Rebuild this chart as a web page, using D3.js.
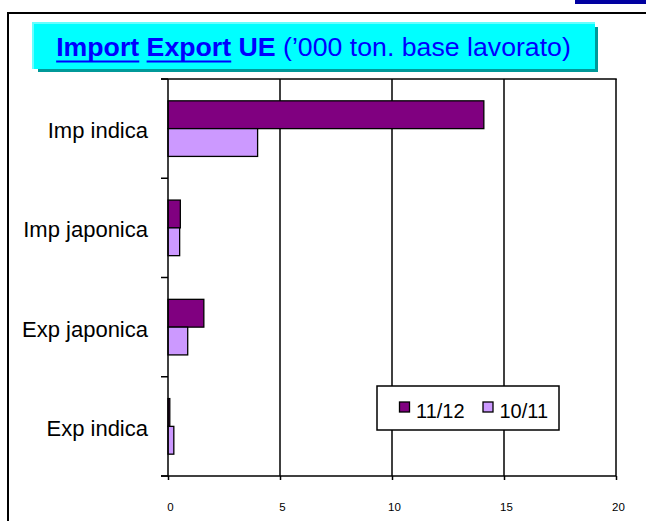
<!DOCTYPE html>
<html>
<head>
<meta charset="utf-8">
<script src="https://cdn.jsdelivr.net/npm/d3@7"></script>
<style>
  html, body { margin: 0; padding: 0; background: #fff; }
  svg { display: block; font-family: Arial, "Liberation Sans", sans-serif; }
</style>
</head>
<body>
<svg id="chart" width="646" height="521"></svg>
<script>
const categories = ["Imp indica", "Imp japonica", "Exp japonica", "Exp indica"];
const seriesNames = ["11/12", "10/11"];
const values1112 = [14.1, 0.55, 1.6, 0.08];
const values1011 = [4.0, 0.52, 0.88, 0.26];
const xTicks = [0, 5, 10, 15, 20];
const colors = ["#800080", "#CC99FF"];

const svg = d3.select("#chart");

// top-right blue bar and outer frame
svg.append("rect").attr("x", 575).attr("y", 0).attr("width", 71).attr("height", 4).attr("fill", "#0000A0");
svg.append("path").attr("d", "M8,521 V13 H646").attr("fill", "none").attr("stroke", "#000").attr("stroke-width", 2);

// Title box
svg.append("rect").attr("x", 38).attr("y", 27).attr("width", 560).attr("height", 45).attr("fill", "#009999");
svg.append("rect").attr("x", 32).attr("y", 22).attr("width", 563).attr("height", 47).attr("fill", "#66FFFF");
svg.append("rect").attr("x", 34).attr("y", 24).attr("width", 561).attr("height", 45).attr("fill", "#00FFFF");

const title = svg.append("text").attr("x", 313.5).attr("y", 56).attr("text-anchor", "middle")
  .attr("font-size", 26.7).attr("fill", "#0000FF");
const parts = [
  {t: "Import", b: true, u: true}, {t: " ", b: false, u: false},
  {t: "Export", b: true, u: true}, {t: " ", b: false, u: false},
  {t: "UE", b: true, u: false}, {t: " (\u2019000 ton. base lavorato)", b: false, u: false}
];
const tspans = parts.map(p => title.append("tspan").text(p.t).attr("font-weight", p.b ? "bold" : "normal"));
// underlines
tspans.forEach((ts, i) => {
  if (!parts[i].u) return;
  const bb = ts.node().getBBox();
  svg.append("rect").attr("x", bb.x).attr("y", 60.5).attr("width", bb.width).attr("height", 2).attr("fill", "#0000FF");
});

// Plot
const margin = {left: 168, top: 79, right: 616, bottom: 476};
const x = d3.scaleLinear().domain([0, 20]).range([margin.left, margin.right]);
const y = d3.scaleBand().domain(categories).range([margin.top, margin.bottom]).padding(0);
const ySub = d3.scaleBand().domain(seriesNames).range([y.bandwidth() * 0.22, y.bandwidth() * 0.78]).padding(0);

// gridlines
svg.append("g").selectAll("line").data(xTicks.filter(d => d > 0)).join("line")
  .attr("x1", d => x(d)).attr("x2", d => x(d))
  .attr("y1", margin.top).attr("y2", margin.bottom)
  .attr("stroke", "#000").attr("stroke-width", 1.5);
// top border
svg.append("line").attr("x1", margin.left - 7).attr("x2", margin.right + 0.75)
  .attr("y1", margin.top).attr("y2", margin.top).attr("stroke", "#000").attr("stroke-width", 1.5);

// bars
const data = categories.map((c, i) => ({cat: c, vals: [values1112[i], values1011[i]]}));
const groups = svg.append("g").selectAll("g").data(data).join("g")
  .attr("transform", d => `translate(0,${y(d.cat)})`);
groups.selectAll("rect").data(d => d.vals.map((v, j) => ({v, s: seriesNames[j], j}))).join("rect")
  .attr("x", x(0)).attr("y", d => ySub(d.s))
  .attr("width", d => x(d.v) - x(0)).attr("height", ySub.bandwidth())
  .attr("fill", d => colors[d.j]).attr("stroke", "#000").attr("stroke-width", 1.3);

// x axis
const xAxis = svg.append("g").attr("transform", `translate(0,${margin.bottom})`)
  .call(d3.axisBottom(x).tickValues(xTicks).tickSize(4).tickPadding(23).tickSizeOuter(0));
xAxis.select(".domain").attr("stroke-width", 1.5).attr("d", `M${margin.left - 7},0H${margin.right}`);
xAxis.selectAll(".tick line").attr("stroke-width", 1.5);
xAxis.selectAll("text").attr("font-size", 11.5).attr("font-family", "Arial, 'Liberation Sans', sans-serif")
  .attr("fill", "#000").attr("dx", 2);

// y axis line and category boundary ticks
svg.append("line").attr("x1", margin.left).attr("x2", margin.left)
  .attr("y1", margin.top).attr("y2", margin.bottom).attr("stroke", "#000").attr("stroke-width", 1.5);
const bounds = categories.map(c => y(c)).concat([margin.bottom]);
svg.append("g").selectAll("line").data(bounds).join("line")
  .attr("x1", margin.left - 7).attr("x2", margin.left)
  .attr("y1", d => d).attr("y2", d => d).attr("stroke", "#000").attr("stroke-width", 1.5);

// category labels
svg.append("g").selectAll("text").data(categories).join("text")
  .attr("x", 148).attr("y", d => y(d) + y.bandwidth() / 2 + 9.5)
  .attr("text-anchor", "end").attr("font-size", 22).attr("fill", "#000")
  .text(d => d);

// legend
const lg = svg.append("g");
lg.append("rect").attr("x", 377).attr("y", 386).attr("width", 182).attr("height", 44)
  .attr("fill", "#fff").attr("stroke", "#000").attr("stroke-width", 1.5);
const legX = [399.5, 483];
seriesNames.forEach((s, i) => {
  lg.append("rect").attr("x", legX[i]).attr("y", 402).attr("width", 10).attr("height", 10)
    .attr("fill", colors[i]).attr("stroke", "#000").attr("stroke-width", 1.3);
  lg.append("text").attr("x", legX[i] + 16.5).attr("y", 417.5).attr("font-size", 20).attr("fill", "#000").text(s);
});
</script>
</body>
</html>
